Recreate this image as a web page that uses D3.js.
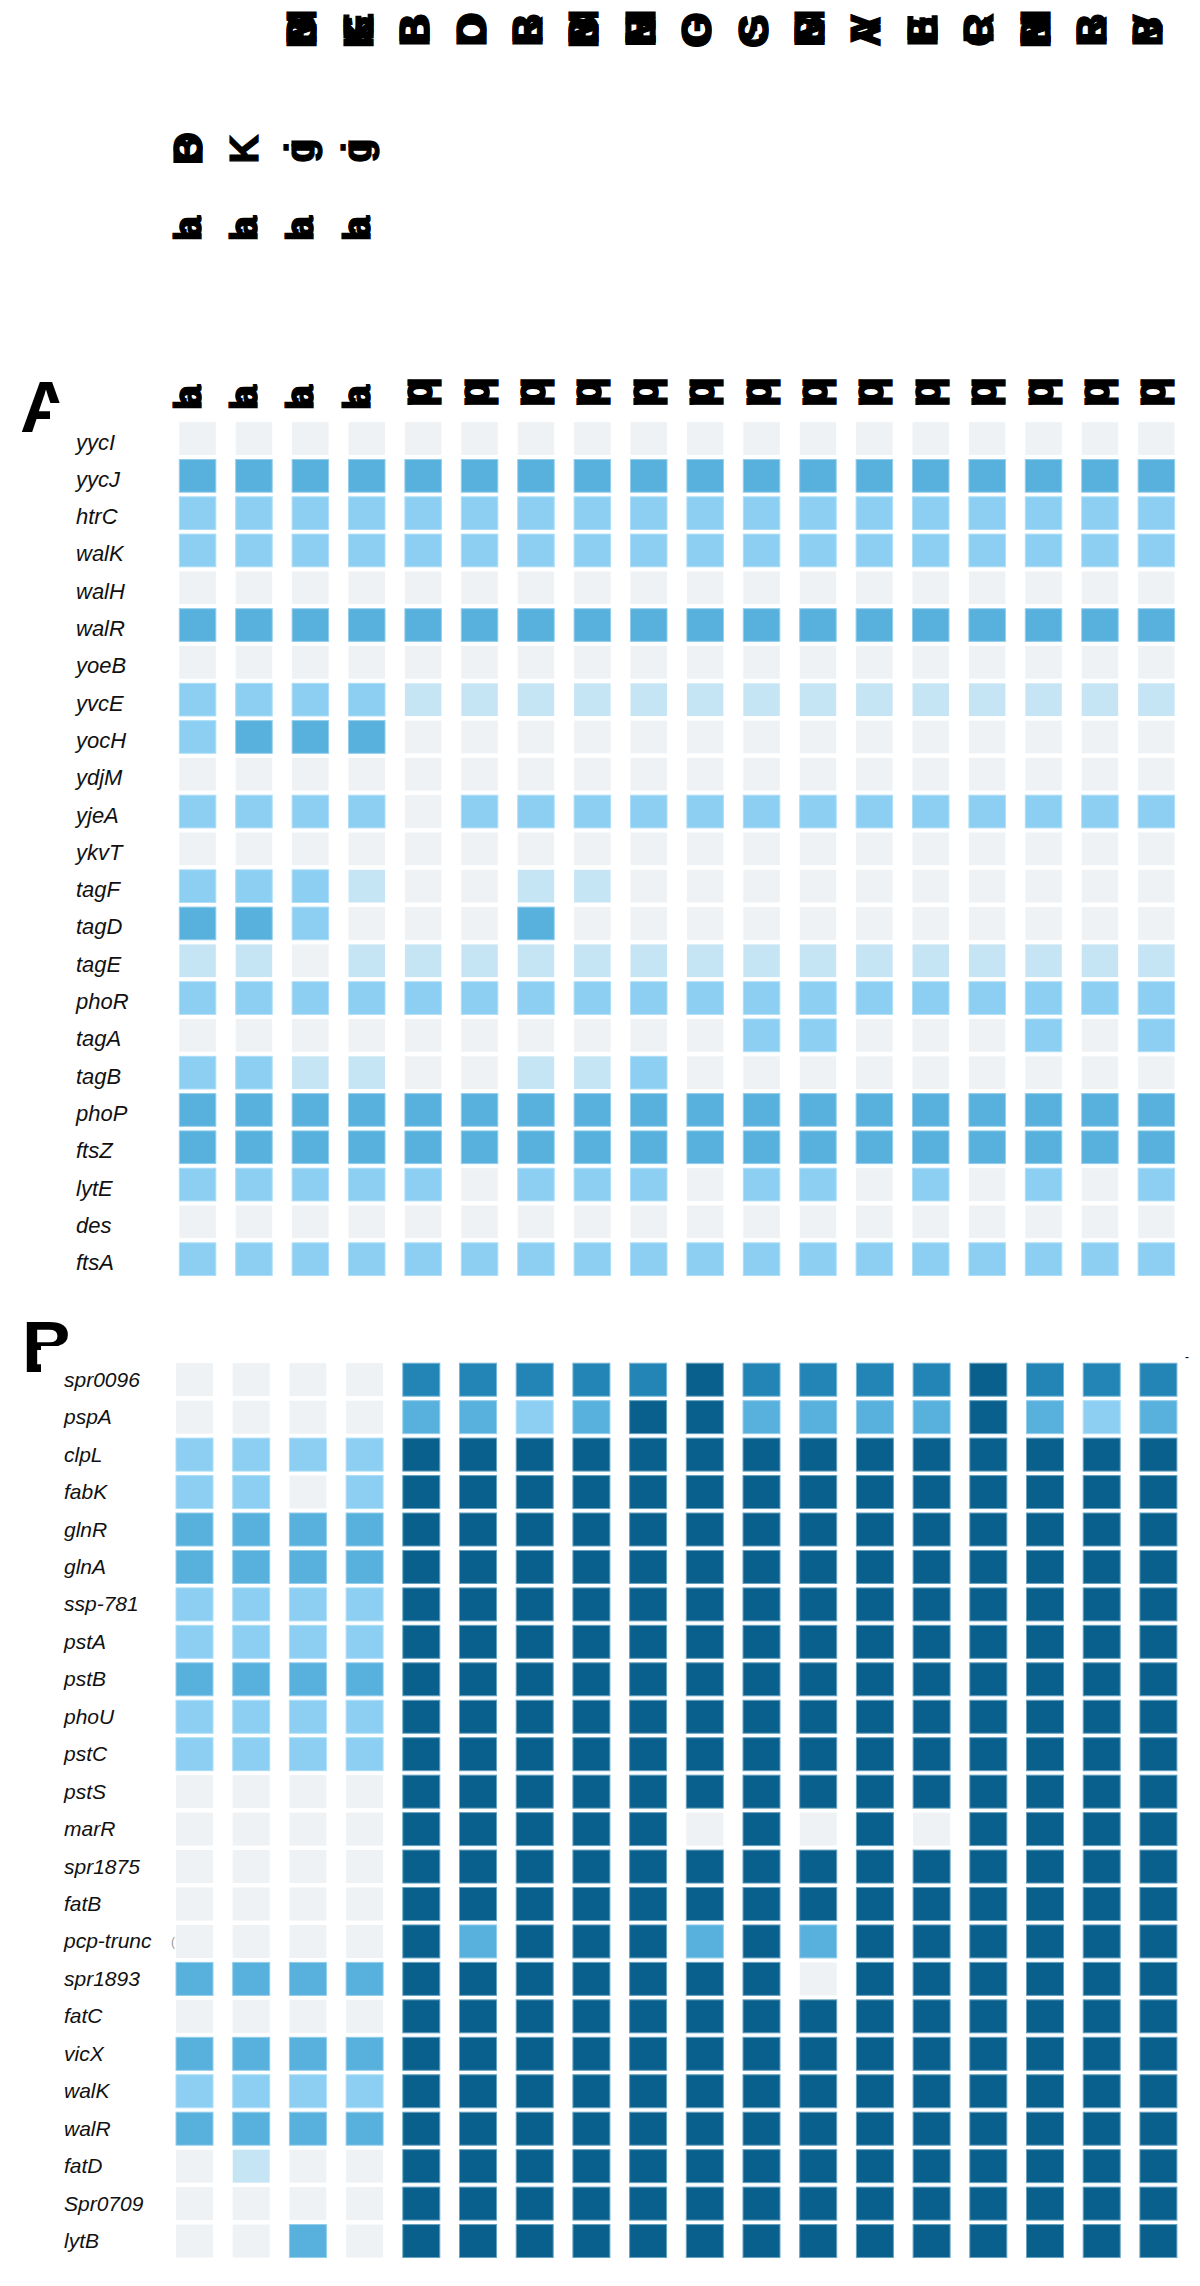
<!DOCTYPE html>
<html><head><meta charset="utf-8">
<script src="https://cdn.jsdelivr.net/npm/d3@7"></script>
<style>body{margin:0;background:#fff}</style>
</head><body>
<svg id="chart" width="1200" height="2286"></svg>
<script>
// ---------- DATA ----------
// colour levels: 0 absent, 1 pale, 2 light, 3 medium, 4 strong, 5 darkest
const levelColors = ["#eef2f5", "#c6e5f4", "#8ccff2", "#58b0dd", "#2384b6", "#0a608d"];

// column header labels (unreadable overlapping glyph clusters in the source)
const headerTopLabels = ["BGM","KSE","BB","DO","RB","BSM","EHM","GO","GS","ESM","AV","BE","CR","BHM","RB","BV"]; // columns 3-18
const headerMid1Labels = ["BO","K","gi","gi"];   // columns 1-4
const headerMid2Labels = ["ba","ba","ba","ba"];  // columns 1-4
const headerALabels = ["ba","ba","ba","ba","pq","pq","pq","pq","pq","pq","pq","pq","pq","pq","pq","pq","pq","pq"];

const rowsA = ["yycI","yycJ","htrC","walK","walH","walR","yoeB","yvcE","yocH","ydjM","yjeA","ykvT","tagF","tagD","tagE","phoR","tagA","tagB","phoP","ftsZ","lytE","des","ftsA"];
const valuesA = [
  [0,0,0,0,0,0,0,0,0,0,0,0,0,0,0,0,0,0],
  [3,3,3,3,3,3,3,3,3,3,3,3,3,3,3,3,3,3],
  [2,2,2,2,2,2,2,2,2,2,2,2,2,2,2,2,2,2],
  [2,2,2,2,2,2,2,2,2,2,2,2,2,2,2,2,2,2],
  [0,0,0,0,0,0,0,0,0,0,0,0,0,0,0,0,0,0],
  [3,3,3,3,3,3,3,3,3,3,3,3,3,3,3,3,3,3],
  [0,0,0,0,0,0,0,0,0,0,0,0,0,0,0,0,0,0],
  [2,2,2,2,1,1,1,1,1,1,1,1,1,1,1,1,1,1],
  [2,3,3,3,0,0,0,0,0,0,0,0,0,0,0,0,0,0],
  [0,0,0,0,0,0,0,0,0,0,0,0,0,0,0,0,0,0],
  [2,2,2,2,0,2,2,2,2,2,2,2,2,2,2,2,2,2],
  [0,0,0,0,0,0,0,0,0,0,0,0,0,0,0,0,0,0],
  [2,2,2,1,0,0,1,1,0,0,0,0,0,0,0,0,0,0],
  [3,3,2,0,0,0,3,0,0,0,0,0,0,0,0,0,0,0],
  [1,1,0,1,1,1,1,1,1,1,1,1,1,1,1,1,1,1],
  [2,2,2,2,2,2,2,2,2,2,2,2,2,2,2,2,2,2],
  [0,0,0,0,0,0,0,0,0,0,2,2,0,0,0,2,0,2],
  [2,2,1,1,0,0,1,1,2,0,0,0,0,0,0,0,0,0],
  [3,3,3,3,3,3,3,3,3,3,3,3,3,3,3,3,3,3],
  [3,3,3,3,3,3,3,3,3,3,3,3,3,3,3,3,3,3],
  [2,2,2,2,2,0,2,2,2,0,2,2,0,2,0,2,0,2],
  [0,0,0,0,0,0,0,0,0,0,0,0,0,0,0,0,0,0],
  [2,2,2,2,2,2,2,2,2,2,2,2,2,2,2,2,2,2]
];

const rowsB = ["spr0096","pspA","clpL","fabK","glnR","glnA","ssp-781","pstA","pstB","phoU","pstC","pstS","marR","spr1875","fatB","pcp-trunc","spr1893","fatC","vicX","walK","walR","fatD","Spr0709","lytB"];
const valuesB = [
  [0,0,0,0,4,4,4,4,4,5,4,4,4,4,5,4,4,4],
  [0,0,0,0,3,3,2,3,5,5,3,3,3,3,5,3,2,3],
  [2,2,2,2,5,5,5,5,5,5,5,5,5,5,5,5,5,5],
  [2,2,0,2,5,5,5,5,5,5,5,5,5,5,5,5,5,5],
  [3,3,3,3,5,5,5,5,5,5,5,5,5,5,5,5,5,5],
  [3,3,3,3,5,5,5,5,5,5,5,5,5,5,5,5,5,5],
  [2,2,2,2,5,5,5,5,5,5,5,5,5,5,5,5,5,5],
  [2,2,2,2,5,5,5,5,5,5,5,5,5,5,5,5,5,5],
  [3,3,3,3,5,5,5,5,5,5,5,5,5,5,5,5,5,5],
  [2,2,2,2,5,5,5,5,5,5,5,5,5,5,5,5,5,5],
  [2,2,2,2,5,5,5,5,5,5,5,5,5,5,5,5,5,5],
  [0,0,0,0,5,5,5,5,5,5,5,5,5,5,5,5,5,5],
  [0,0,0,0,5,5,5,5,5,0,5,0,5,0,5,5,5,5],
  [0,0,0,0,5,5,5,5,5,5,5,5,5,5,5,5,5,5],
  [0,0,0,0,5,5,5,5,5,5,5,5,5,5,5,5,5,5],
  [0,0,0,0,5,3,5,5,5,3,5,3,5,5,5,5,5,5],
  [3,3,3,3,5,5,5,5,5,5,5,0,5,5,5,5,5,5],
  [0,0,0,0,5,5,5,5,5,5,5,5,5,5,5,5,5,5],
  [3,3,3,3,5,5,5,5,5,5,5,5,5,5,5,5,5,5],
  [2,2,2,2,5,5,5,5,5,5,5,5,5,5,5,5,5,5],
  [3,3,3,3,5,5,5,5,5,5,5,5,5,5,5,5,5,5],
  [0,1,0,0,5,5,5,5,5,5,5,5,5,5,5,5,5,5],
  [0,0,0,0,5,5,5,5,5,5,5,5,5,5,5,5,5,5],
  [0,0,3,0,5,5,5,5,5,5,5,5,5,5,5,5,5,5]
];

// ---------- DRAW ----------
const svg = d3.select("#chart");
const color = d3.scaleOrdinal().domain(d3.range(levelColors.length)).range(levelColors);
const strokeColor = lv => lv < 2 ? "none" : d3.interpolateRgb(levelColors[lv], "#d8f2ff")(0.45);
const colIdx = d3.range(18);
const FONT = "Liberation Sans, Arial, sans-serif";

function panel(cfg) {
  const x = d3.scaleBand().domain(colIdx).range([cfg.x0, cfg.x1]).paddingInner(cfg.padX).paddingOuter(0);
  const y = d3.scaleBand().domain(cfg.rows).range([cfg.y0, cfg.y1]).paddingInner(cfg.padY).paddingOuter(0);
  const g = svg.append("g");
  // panel letter
  g.append("text").attr("x", cfg.letterX).attr("y", cfg.letterY)
    .attr("font-family", FONT).attr("font-weight", "bold")
    .attr("font-size", 72).attr("fill", "#000").text(cfg.letter);
  // white label background which clips part of the letter
  g.append("rect").attr("x", cfg.coverX).attr("y", cfg.coverY)
    .attr("width", 120).attr("height", 70).attr("fill", "#fff");
  // cells
  cfg.rows.forEach((r, i) => {
    g.selectAll(null).data(cfg.values[i]).enter().append("rect")
      .attr("x", (d, j) => x(j) + 0.5).attr("y", y(r) + 0.5)
      .attr("width", x.bandwidth() - 1).attr("height", y.bandwidth() - 1)
      .attr("fill", d => color(d))
      .attr("stroke", d => strokeColor(d)).attr("stroke-width", 1);
  });
  // row labels
  g.selectAll(null).data(cfg.rows).enter().append("text")
    .attr("x", cfg.labelX).attr("y", d => y(d) + y.bandwidth() / 2 + cfg.baseOff)
    .attr("font-family", FONT).attr("font-style", "italic")
    .attr("font-size", cfg.labelSize).attr("fill", "#111").text(d => d);
  return {x, y};
}

const A = panel({rows: rowsA, values: valuesA, x0: 178.8, x1: 178.8 + 17 * 56.4 + 37.5, padX: 1 - 37.5 / 56.4,
  y0: 421.7, y1: 421.7 + 22 * 37.3 + 33.7, padY: 1 - 33.7 / 37.3, letter: "A", letterX: 20, letterY: 432,
  coverX: 50, coverY: 403, labelX: 76, baseOff: 11, labelSize: 22});

const B = panel({rows: rowsB, values: valuesB, x0: 175.5, x1: 175.5 + 17 * 56.7 + 38, padX: 1 - 38 / 56.7,
  y0: 1362.7, y1: 1362.7 + 23 * 37.45 + 34, padY: 1 - 34 / 37.45, letter: "B", letterX: 22, letterY: 1372,
  coverX: 41, coverY: 1346, labelX: 64, baseOff: 7, labelSize: 21});
const xA = A.x;

// header glyph clusters (characters drawn on top of each other, rotated)
function header(labels, startCol, cy, dx, size) {
  labels.forEach((lab, k) => {
    const cx = xA(startCol + k) + xA.bandwidth() / 2 + dx;
    const t = svg.append("text")
      .attr("transform", `translate(${cx},${cy}) rotate(-90)`)
      .attr("font-family", FONT).attr("font-weight", "bold")
      .attr("font-size", size).attr("fill", "#000")
      .attr("stroke", "#000").attr("stroke-width", 1.2)
      .attr("text-anchor", "middle").attr("dominant-baseline", "central");
    Array.from(lab).forEach((ch, m) => {
      t.append("tspan").attr("x", (m - (lab.length - 1) / 2) * size * 0.08).attr("y", 0).text(ch);
    });
  });
}
header(headerTopLabels, 2, 30, -9, 42);
header(headerMid1Labels, 0, 149, -10, 40);
header(headerMid2Labels, 0, 228, -10, 38);
header(headerALabels.slice(0, 4), 0, 397, -10, 38);
header(headerALabels.slice(4), 4, 392, -7, 44);

// small stray marks in panel B
svg.append("text").attr("x", 1185).attr("y", 1361).attr("font-family", FONT)
  .attr("font-size", 12).attr("fill", "#000").text("-");
svg.append("text").attr("x", 171).attr("y", B.y("pcp-trunc") + B.y.bandwidth() / 2 + 5).attr("font-family", FONT)
  .attr("font-size", 12).attr("fill", "#999").text("(");
</script>
</body></html>
